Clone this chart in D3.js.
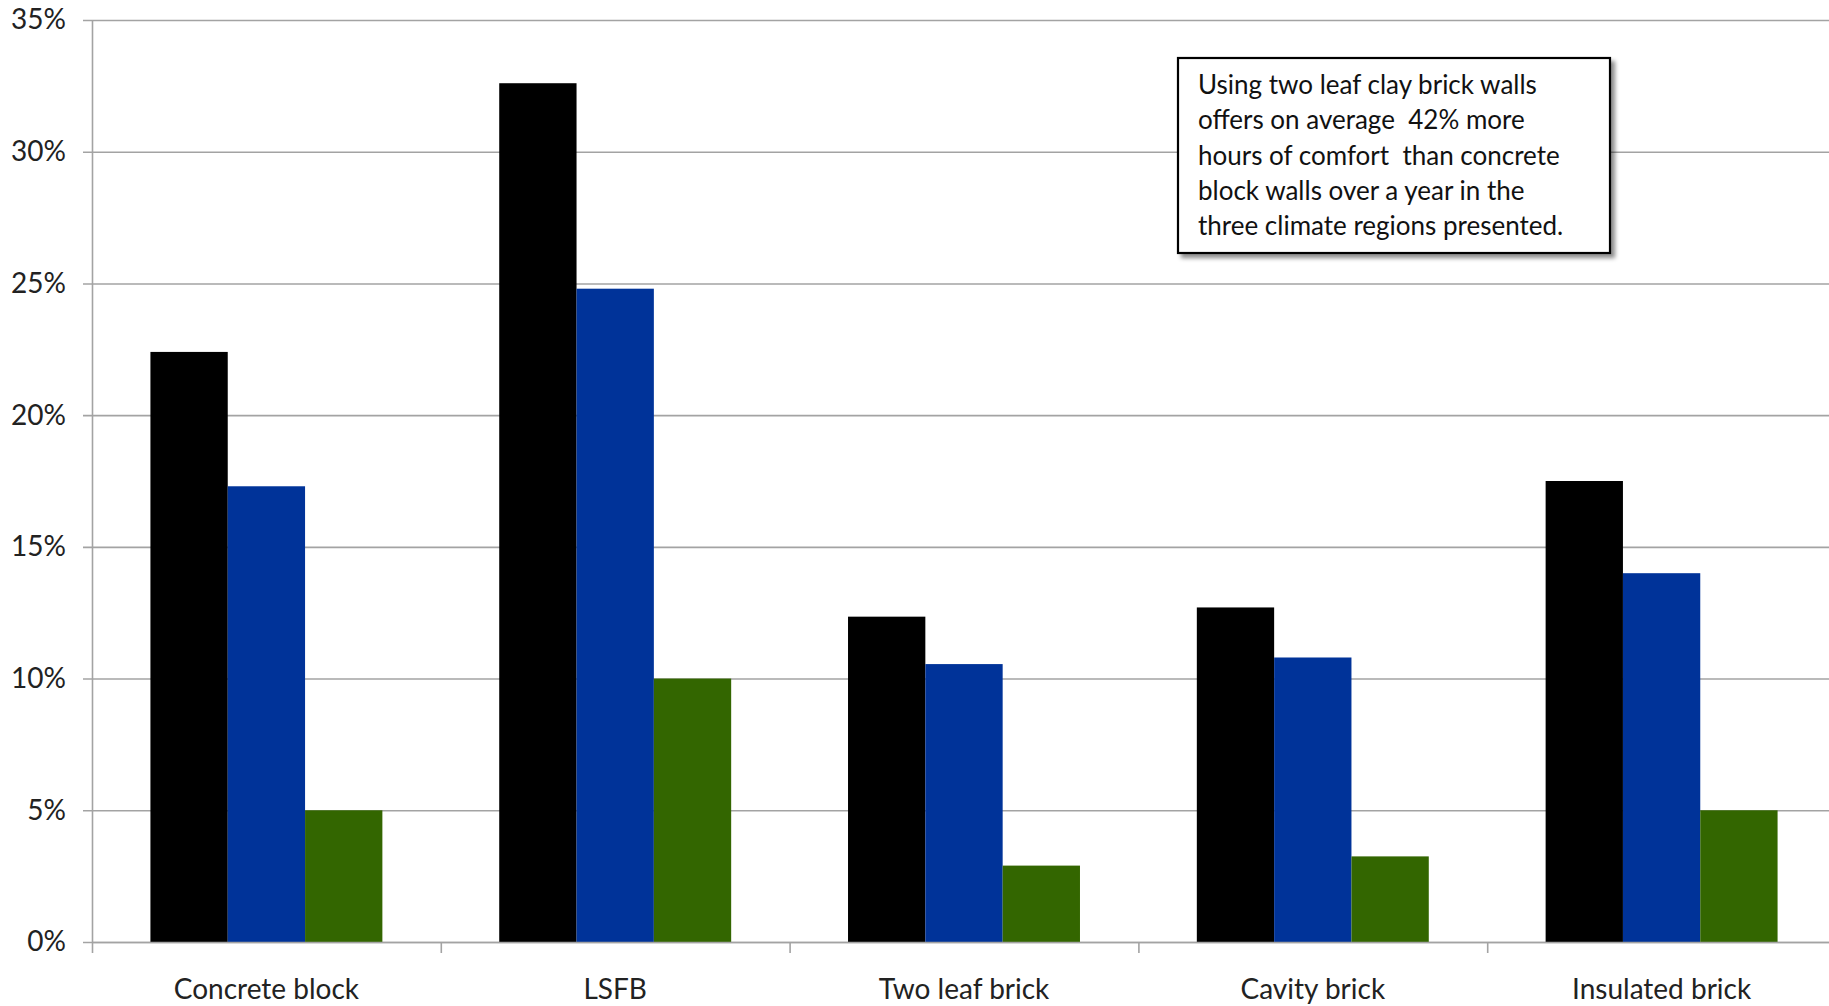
<!DOCTYPE html>
<html lang="en">
<head>
  <meta charset="UTF-8">
  <title>Hours of discomfort by wall type</title>
  <script src="https://d3js.org/d3.v7.min.js"></script>
  <style>
    html, body { margin: 0; padding: 0; background: #fff; }
    svg { display: block; }
  </style>
</head>
<body>
  <div id="chart"></div>

  <script>
    // data
    const categories = ["Concrete block", "LSFB", "Two leaf brick", "Cavity brick", "Insulated brick"];
    const seriesNames = ["s1", "s2", "s3"];
    const series1 = [0.224, 0.326, 0.1235, 0.127, 0.175];
    const series2 = [0.173, 0.248, 0.1055, 0.108, 0.140];
    const series3 = [0.050, 0.100, 0.029, 0.0325, 0.050];
    const seriesColors = ["#000000", "#003399", "#336600"];
    const yTicks = [0, 0.05, 0.10, 0.15, 0.20, 0.25, 0.30, 0.35];
    const noteLines = [
      "Using two leaf clay brick walls",
      "offers on average  42% more",
      "hours of comfort  than concrete",
      "block walls over a year in the",
      "three climate regions presented."
    ];

    const width = 1829;
    const height = 1006;
    // plot runs a little past the right edge of the page, like the original
    const margin = { top: 20, right: -7, bottom: 64, left: 92 };
    const plotBottom = height - margin.bottom;

    const svg = d3.select("#chart")
      .append("svg")
      .attr("width", width)
      .attr("height", height);

    const y = d3.scaleLinear()
      .domain([0, 0.35])
      .range([plotBottom, margin.top]);

    const x0 = d3.scaleBand()
      .domain(categories)
      .range([margin.left, width - margin.right])
      .paddingInner(0.335)
      .paddingOuter(0.1675);

    const x1 = d3.scaleBand()
      .domain(seriesNames)
      .range([0, x0.bandwidth()]);

    // boundaries between categories for the little ticks under the axis
    const xb = d3.scaleLinear()
      .domain([0, categories.length])
      .range([margin.left, width - margin.right]);

    // gridlines (start a bit left of the axis, like the tick marks)
    svg.append("g")
      .attr("class", "grid")
      .attr("transform", `translate(${margin.left - 9},0)`)
      .call(d3.axisLeft(y).tickValues(yTicks).tickSize(-(width - margin.left + 9)).tickFormat(""))
      .call(g => g.select(".domain").remove())
      .call(g => g.selectAll("line").attr("stroke", "#a3a3a3").attr("stroke-width", 1.6));

    // y labels
    svg.append("g")
      .attr("transform", `translate(${margin.left - 9},0)`)
      .call(d3.axisLeft(y).tickValues(yTicks).tickSize(0).tickPadding(17).tickFormat(d3.format(".0%")))
      .call(g => g.select(".domain").remove())
      .call(g => g.selectAll("text")
        .attr("font-family", "Lato, sans-serif")
        .attr("font-size", 28)
        .attr("fill", "#222"));

    // bars
    const rows = categories.map((c, i) => ({
      category: c,
      values: [series1[i], series2[i], series3[i]]
    }));

    const groups = svg.append("g")
      .selectAll("g")
      .data(rows)
      .enter()
      .append("g")
      .attr("transform", d => `translate(${x0(d.category)},0)`);

    groups.selectAll("rect")
      .data(d => d.values.map((v, k) => ({ key: seriesNames[k], value: v, color: seriesColors[k] })))
      .enter()
      .append("rect")
      .attr("x", d => x1(d.key))
      .attr("y", d => y(d.value))
      .attr("width", x1.bandwidth())
      .attr("height", d => y(0) - y(d.value))
      .attr("fill", d => d.color);

    // x axis: boundary ticks
    svg.append("g")
      .attr("transform", `translate(0,${plotBottom})`)
      .call(d3.axisBottom(xb).tickValues(d3.range(categories.length)).tickSize(11).tickSizeOuter(0).tickFormat(""))
      .call(g => g.select(".domain").attr("stroke", "#a3a3a3").attr("stroke-width", 1.6))
      .call(g => g.selectAll("line").attr("stroke", "#a3a3a3").attr("stroke-width", 1.6));

    // x labels
    svg.append("g")
      .attr("transform", `translate(0,${plotBottom})`)
      .call(d3.axisBottom(x0).tickSize(0).tickPadding(37))
      .call(g => g.select(".domain").remove())
      .call(g => g.selectAll("text")
        .attr("font-family", "Lato, sans-serif")
        .attr("font-size", 28)
        .attr("fill", "#222"));

    // y axis line
    svg.append("g")
      .attr("transform", `translate(${margin.left},0)`)
      .call(d3.axisLeft(y).tickValues([]).tickSizeOuter(0))
      .call(g => g.select(".domain").attr("stroke", "#a3a3a3").attr("stroke-width", 1.6));

    // annotation box
    const defs = svg.append("defs");
    const shadow = defs.append("filter")
      .attr("id", "shadow")
      .attr("x", "-10%").attr("y", "-10%")
      .attr("width", "130%").attr("height", "130%");
    shadow.append("feDropShadow")
      .attr("dx", 4).attr("dy", 4)
      .attr("stdDeviation", 2)
      .attr("flood-color", "#000")
      .attr("flood-opacity", 0.45);

    const note = svg.append("g").attr("transform", "translate(1178,58)");
    note.append("rect")
      .attr("width", 432)
      .attr("height", 195)
      .attr("fill", "#fff")
      .attr("stroke", "#000")
      .attr("stroke-width", 2.2)
      .attr("filter", "url(#shadow)");

    note.selectAll("text")
      .data(noteLines)
      .enter()
      .append("text")
      .attr("x", 20)
      .attr("y", (d, i) => 36 + i * 35.3)
      .attr("font-family", "Lato, sans-serif")
      .attr("font-size", 26)
      .attr("fill", "#111")
      .style("white-space", "pre")
      .text(d => d);
  </script>
</body>
</html>
